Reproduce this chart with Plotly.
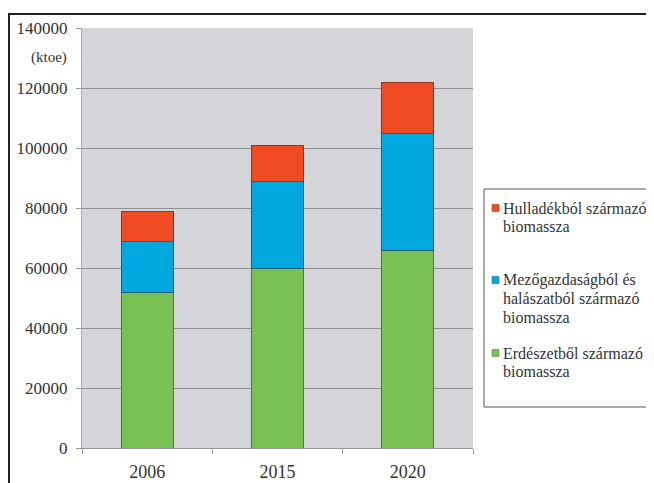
import plotly.graph_objects as go

years = ["2006", "2015", "2020"]
erdo = [52000, 60000, 66000]
mezo = [17000, 29000, 39000]
hulla = [10000, 12000, 17000]

name_lines = [["Erdészetből származó", "biomassza"],
              ["Mezőgazdaságból és", "halászatból származó", "biomassza"],
              ["Hulladékból származó", "biomassza"]]
colors = ["#78c152", "#00a8df", "#f04b22"]
lines = ["#4a7a35", "#1d5f7a", "#8a3a20"]
series = [erdo, mezo, hulla]

OFF = 8  # page body margin
W, H = 654 - OFF, 483 - OFF
L, R, T, B = 82 - OFF, 473 - OFF, 28 - OFF, 448 - OFF
SERIF = "Liberation Serif"
TXT = "#333333"

fig = go.Figure()
for i, (nl, vals) in enumerate(zip(name_lines, series)):
    fig.add_trace(go.Bar(
        x=years, y=vals, name=" ".join(nl),
        marker=dict(color=colors[i], line=dict(color=lines[i], width=1)),
        width=0.4, showlegend=False,
    ))

def px(x):
    return (x - OFF - L) / (R - L)

def py(y):
    return (B - (y - OFF)) / (B - T)

# legend (drawn as shapes/annotations to match the original box layout)
shapes = [
    dict(type="rect", xref="paper", yref="paper", x0=px(484), x1=px(652),
         y0=py(189), y1=py(407), line=dict(color="#555555", width=1),
         fillcolor="white", layer="above"),
    dict(type="line", xref="paper", yref="paper", x0=px(8), x1=px(670),
         y0=py(14), y1=py(14), line=dict(color="#222222", width=2)),
    dict(type="line", xref="paper", yref="paper", x0=px(9), x1=px(9),
         y0=py(14), y1=py(500), line=dict(color="#222222", width=2)),
]
annotations = [dict(
    text="(ktoe)", xref="paper", yref="paper", x=px(69), y=py(58),
    xanchor="right", yanchor="middle", showarrow=False,
    font=dict(family=SERIF, size=15, color=TXT),
)]
first_line_y = {2: 208, 1: 280, 0: 353}
for i in (2, 1, 0):
    y0 = first_line_y[i]
    shapes.append(dict(type="rect", xref="paper", yref="paper",
                       x0=px(492), x1=px(499), y0=py(y0 - 3.5), y1=py(y0 + 3.5),
                       fillcolor=colors[i], line=dict(color=lines[i], width=0.5),
                       layer="above"))
    for k, t in enumerate(name_lines[i]):
        annotations.append(dict(
            text=t, xref="paper", yref="paper", x=px(501), y=py(y0 + 18.7 * k),
            xanchor="left", yanchor="middle", showarrow=False,
            font=dict(family=SERIF, size=16, color=TXT),
        ))

fig.update_layout(
    width=W, height=H,
    margin=dict(l=L, r=W - R, t=T, b=H - B, pad=0, autoexpand=False),
    barmode="stack",
    paper_bgcolor="white",
    plot_bgcolor="#d3d5d8",
    font=dict(family=SERIF, size=16, color=TXT),
    showlegend=False,
    xaxis=dict(
        showgrid=False, ticks="outside", tickson="boundaries",
        ticklen=5, tickcolor="#999999", showline=True, linecolor="#999999",
        tickfont=dict(size=18), range=[-0.5, 2.5], ticklabelstandoff=7,
    ),
    yaxis=dict(
        range=[0, 140000], dtick=20000, showgrid=True, gridcolor="#909090",
        gridwidth=1, ticks="outside", ticklen=5, tickcolor="#999999",
        showline=True, linecolor="#aaaaaa", tickformat="d", zeroline=False,
        tickfont=dict(size=17), ticklabelstandoff=5,
    ),
    annotations=annotations,
    shapes=shapes,
)

fig.write_html("out.html")
